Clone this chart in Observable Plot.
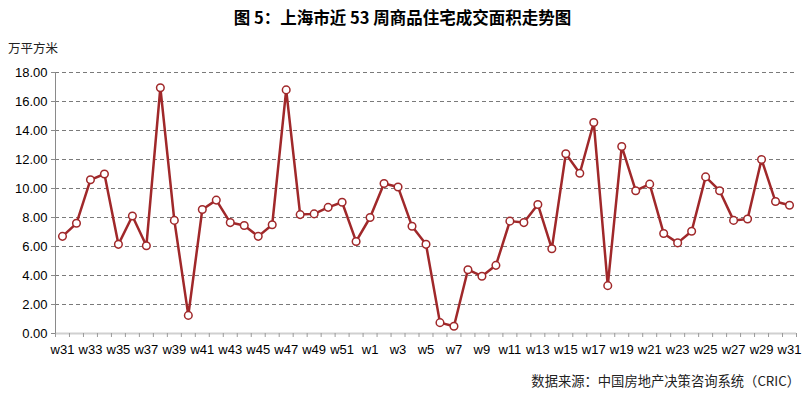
<!DOCTYPE html>
<html>
<head>
<meta charset="utf-8">
<script src="https://cdn.jsdelivr.net/npm/d3@7"></script>
<script src="https://cdn.jsdelivr.net/npm/@observablehq/plot@0.6"></script>
<style>
  html, body { margin: 0; padding: 0; background: #fff; }
  body { width: 805px; height: 396px; position: relative; overflow: hidden;
         font-family: "Liberation Sans", Arial, "Noto Sans CJK SC", sans-serif; }
  #title { position: absolute; top: 5px; left: 0; width: 805px; text-align: center;
           font-family: "Noto Sans CJK SC", sans-serif; font-weight: bold; font-size: 16.5px; color: #000; }
  #unit { position: absolute; top: 38px; left: 8px; font-family: "Noto Sans CJK SC", sans-serif;
          font-size: 12.5px; color: #222; }
  #chart { position: absolute; top: 36px; left: 0; }
  #caption { position: absolute; top: 371px; right: 5px; font-family: "Noto Sans CJK SC", sans-serif;
             font-size: 13.3px; color: #222; }
</style>
</head>
<body>
<div id="title">图 5：上海市近 53 周商品住宅成交面积走势图</div>
<div id="unit">万平方米</div>
<div id="chart"></div>
<div id="caption">数据来源：中国房地产决策咨询系统（CRIC）</div>
<script>
const weeks = [
  "w31","w32","w33","w34","w35","w36","w37","w38","w39","w40","w41","w42","w43","w44","w45","w46",
  "w47","w48","w49","w50","w51","w52",
  "w1","w2","w3","w4","w5","w6","w7","w8","w9","w10","w11","w12","w13","w14","w15","w16",
  "w17","w18","w19","w20","w21","w22","w23","w24","w25","w26","w27","w28","w29","w30","w31"
];
const values = [
  6.7, 7.6, 10.6, 11.0, 6.15, 8.1, 6.05, 16.95, 7.8, 1.25, 8.55, 9.2, 7.65, 7.45, 6.7, 7.5,
  16.8, 8.2, 8.25, 8.7, 9.05, 6.35,
  8.0, 10.35, 10.1, 7.4, 6.15, 0.75, 0.5, 4.4, 3.95, 4.7, 7.75, 7.65, 8.9, 5.85, 12.4, 11.05,
  14.55, 3.3, 12.9, 9.85, 10.3, 6.9, 6.25, 7.05, 10.8, 9.85, 7.8, 7.9, 12.0, 9.1, 8.85
];
const yTicks = [0, 2, 4, 6, 8, 10, 12, 14, 16, 18];

const data = weeks.map((w, i) => ({i, week: w, value: values[i]}));
const labelIdx = data.filter(d => d.i % 2 === 0).map(d => d.i);
const boundaries = d3.range(weeks.length + 1).map(k => k - 0.5);
const red = "#A0282A";

const chart = Plot.plot({
  width: 805,
  height: 330,
  marginLeft: 55,
  marginRight: 9,
  marginTop: 36,
  marginBottom: 33,
  style: {fontFamily: "'Liberation Sans', Arial, sans-serif", fontSize: "13px", color: "#000"},
  x: {type: "linear", domain: [-0.5, weeks.length - 0.5]},
  y: {domain: [0, 18]},
  marks: [
    Plot.gridY(yTicks.filter(t => t > 0), {stroke: "#7a7a7a", strokeOpacity: 1, strokeDasharray: "4,3", strokeWidth: 1}),
    Plot.ruleY([0], {stroke: "#d0d0d0", strokeWidth: 2}),
    Plot.ruleX([-0.5], {stroke: "#8a8a8a", strokeWidth: 1}),
    Plot.axisY({ticks: yTicks, tickFormat: d => d.toFixed(2), tickSize: 4, tickPadding: 4, stroke: "#8a8a8a", label: null, fontSize: 13}),
    Plot.axisX({ticks: boundaries, tickSize: 4, tickFormat: () => "", stroke: "#9a9a9a", label: null}),
    Plot.axisX({ticks: labelIdx, tickSize: 0, tickPadding: 11, tickFormat: i => weeks[i], label: null, fontSize: 13}),
    Plot.line(data, {x: "i", y: "value", stroke: red, strokeWidth: 2.5}),
    Plot.dot(data, {x: "i", y: "value", r: 3.8, fill: "white", stroke: red, strokeWidth: 1.5})
  ]
});
document.getElementById("chart").appendChild(chart);
</script>
</body>
</html>
